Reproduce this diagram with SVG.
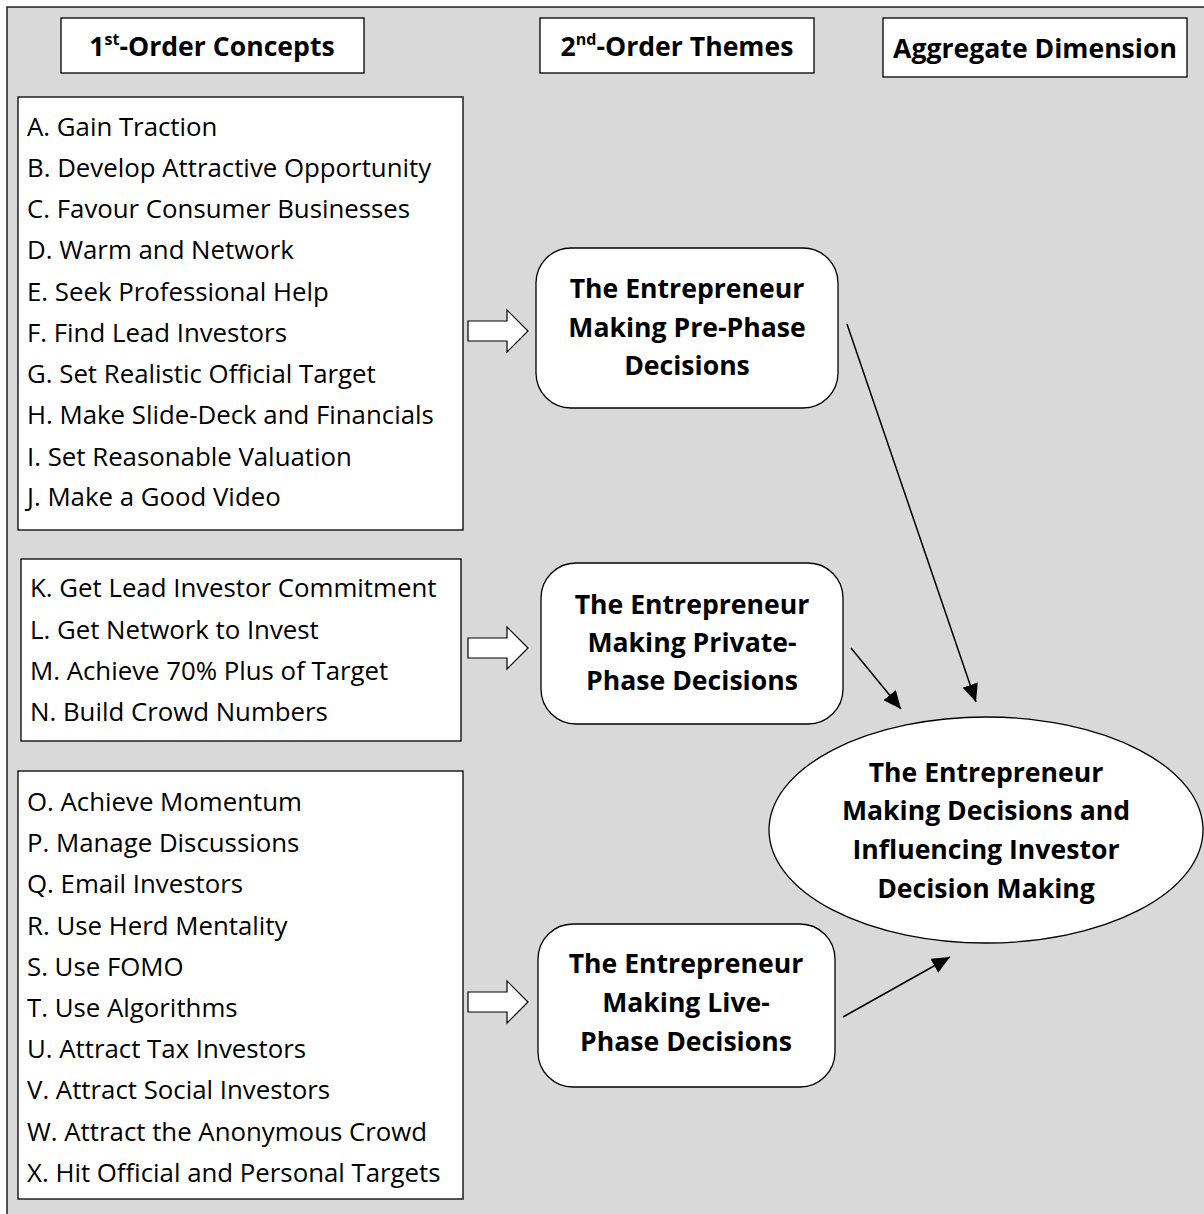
<svg xmlns="http://www.w3.org/2000/svg" width="1204" height="1214" viewBox="0 0 1204 1214">
  <style>
    .box { fill: #ffffff; stroke: #000000; stroke-width: 1.3; }
    .item { font-family: "Open Sans", "Noto Sans", sans-serif; font-size: 25.8px; fill: #000000; }
    .head { font-family: "Open Sans", "Noto Sans", sans-serif; font-size: 26.6px; font-weight: bold; fill: #000000; text-anchor: middle; }
    .node { font-family: "Open Sans", "Noto Sans", sans-serif; font-size: 26.6px; font-weight: bold; fill: #000000; text-anchor: middle; }
    .block { fill: #ffffff; stroke: #000000; stroke-width: 1.2; stroke-linejoin: miter; }
    .link { stroke: #000000; stroke-width: 1.5; fill: none; marker-end: url(#head); }
  </style>
  <defs>
    <marker id="head" viewBox="0 0 18 16" refX="18" refY="8" markerWidth="18" markerHeight="16" markerUnits="userSpaceOnUse" orient="auto">
      <path d="M0,0 L18,8 L0,16 z" fill="#000000"/>
    </marker>
  </defs>

  <!-- background panel -->
  <rect x="7" y="7" width="1210" height="1220" fill="#d9d9d9" stroke="#000000" stroke-width="1.3"/>

  <!-- column headings -->
  <g id="heading-first">
    <rect class="box" x="61" y="18" width="303" height="55"/>
    <text class="head" x="212" y="56">1<tspan font-size="16" dy="-11">st</tspan><tspan dy="11">-Order Concepts</tspan></text>
  </g>
  <g id="heading-second">
    <rect class="box" x="540" y="18" width="274" height="55"/>
    <text class="head" x="677" y="56">2<tspan font-size="16" dy="-11">nd</tspan><tspan dy="11">-Order Themes</tspan></text>
  </g>
  <g id="heading-aggregate">
    <rect class="box" x="883" y="18" width="304" height="59"/>
    <text class="head" x="1035" y="58">Aggregate Dimension</text>
  </g>

  <!-- first-order concept lists -->
  <g id="concepts-pre">
    <rect class="box" x="18" y="97" width="445" height="433"/>
    <text class="item" x="27" y="136">A. Gain Traction</text>
    <text class="item" x="27" y="177">B. Develop Attractive Opportunity</text>
    <text class="item" x="27" y="218">C. Favour Consumer Businesses</text>
    <text class="item" x="27" y="259">D. Warm and Network</text>
    <text class="item" x="27" y="301">E. Seek Professional Help</text>
    <text class="item" x="27" y="342">F. Find Lead Investors</text>
    <text class="item" x="27" y="383">G. Set Realistic Official Target</text>
    <text class="item" x="27" y="424">H. Make Slide-Deck and Financials</text>
    <text class="item" x="27" y="466">I. Set Reasonable Valuation</text>
    <text class="item" x="27" y="506">J. Make a Good Video</text>
  </g>
  <g id="concepts-private">
    <rect class="box" x="21" y="559" width="440" height="182"/>
    <text class="item" x="30" y="597">K. Get Lead Investor Commitment</text>
    <text class="item" x="30" y="639">L. Get Network to Invest</text>
    <text class="item" x="30" y="680">M. Achieve 70% Plus of Target</text>
    <text class="item" x="30" y="721">N. Build Crowd Numbers</text>
  </g>
  <g id="concepts-live">
    <rect class="box" x="18" y="771" width="445" height="428"/>
    <text class="item" x="27" y="811">O. Achieve Momentum</text>
    <text class="item" x="27" y="852">P. Manage Discussions</text>
    <text class="item" x="27" y="893">Q. Email Investors</text>
    <text class="item" x="27" y="935">R. Use Herd Mentality</text>
    <text class="item" x="27" y="976">S. Use FOMO</text>
    <text class="item" x="27" y="1017">T. Use Algorithms</text>
    <text class="item" x="27" y="1058">U. Attract Tax Investors</text>
    <text class="item" x="27" y="1099">V. Attract Social Investors</text>
    <text class="item" x="27" y="1141">W. Attract the Anonymous Crowd</text>
    <text class="item" x="27" y="1182">X. Hit Official and Personal Targets</text>
  </g>

  <!-- second-order themes -->
  <g id="theme-pre">
    <rect class="box" x="536" y="248" width="302" height="160" rx="35" ry="35"/>
    <text class="node" x="687" y="298">The Entrepreneur</text>
    <text class="node" x="687" y="337">Making Pre-Phase</text>
    <text class="node" x="687" y="375">Decisions</text>
  </g>
  <g id="theme-private">
    <rect class="box" x="541" y="563" width="302" height="161" rx="35" ry="35"/>
    <text class="node" x="692" y="614">The Entrepreneur</text>
    <text class="node" x="692" y="652">Making Private-</text>
    <text class="node" x="692" y="690">Phase Decisions</text>
  </g>
  <g id="theme-live">
    <rect class="box" x="538" y="924" width="297" height="163" rx="35" ry="35"/>
    <text class="node" x="686" y="973">The Entrepreneur</text>
    <text class="node" x="686" y="1012">Making Live-</text>
    <text class="node" x="686" y="1051">Phase Decisions</text>
  </g>

  <!-- aggregate dimension -->
  <g id="aggregate">
    <ellipse class="box" cx="986" cy="830" rx="217" ry="113"/>
    <text class="node" x="986" y="782">The Entrepreneur</text>
    <text class="node" x="986" y="820">Making Decisions and</text>
    <text class="node" x="986" y="859">Influencing Investor</text>
    <text class="node" x="986" y="898">Decision Making</text>
  </g>

  <!-- connectors -->
  <g id="connectors">
    <path class="block" d="M468,321 L507,321 L507,310 L528,331 L507,352 L507,341 L468,341 Z"/>
    <path class="block" d="M468,638 L507,638 L507,627 L528,648 L507,669 L507,658 L468,658 Z"/>
    <path class="block" d="M468,992 L507,992 L507,981 L528,1002 L507,1023 L507,1012 L468,1012 Z"/>
    <line class="link" x1="847" y1="324" x2="976" y2="702"/>
    <line class="link" x1="851" y1="648" x2="901" y2="709"/>
    <line class="link" x1="843" y1="1017" x2="950" y2="957"/>
  </g>
</svg>
